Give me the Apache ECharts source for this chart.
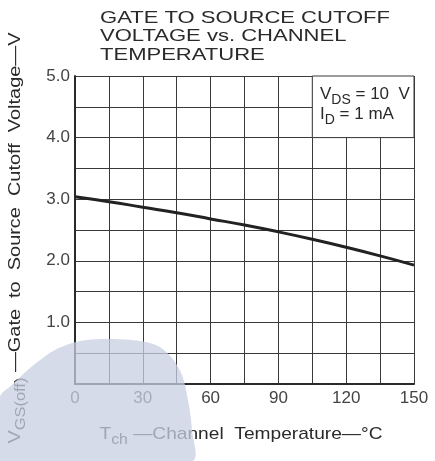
<!DOCTYPE html>
<html>
<head>
<meta charset="utf-8">
<script src="https://cdn.jsdelivr.net/npm/echarts@6/dist/echarts.min.js"></script>
<style>
  html, body { margin: 0; padding: 0; background: #fff; }
  #main { width: 435px; height: 461px; }
</style>
</head>
<body>
<div id="main"></div>
<script>
// channel temperature (°C) and cutoff voltage (V)
var temps = [0, 15, 30, 45, 60, 75, 90, 105, 120, 135, 150];
var vgsOff = [3.04, 2.96, 2.87, 2.78, 2.68, 2.58, 2.47, 2.35, 2.22, 2.08, 1.93];
var xTicks = [0, 30, 60, 90, 120, 150];
var yTicks = [1.0, 2.0, 3.0, 4.0, 5.0];
var titleLines = ['GATE TO SOURCE CUTOFF', 'VOLTAGE vs. CHANNEL', 'TEMPERATURE'];

var chartDom = document.getElementById('main');
var myChart = echarts.init(chartDom);
var option;

var font = 'Liberation Sans';
var ink = '#2a2a2a';

// the print uses spaced-out lettering; measure and stretch to the same width
var ctx = document.createElement('canvas').getContext('2d');
function textWidth(parts) {
    var w = 0;
    parts.forEach(function (p) {
        ctx.font = p[1] + 'px "' + font + '"';
        w += ctx.measureText(p[0]).width;
    });
    return w;
}

var rich = {
    m: { fontSize: 17, fill: ink, fontFamily: font, verticalAlign: 'top', lineHeight: 20 },
    s: { fontSize: 14, fill: ink, fontFamily: font, padding: [8, 0, 0, 0], lineHeight: 20 }
};

var xName = [['T', 17], ['ch', 14], [' \u2014Channel  Temperature\u2014\u00b0C', 17]];
var yName = [['V', 17], ['GS(off)', 14], [' \u2014Gate  to  Source  Cutoff  Voltage\u2014V', 17]];
function toRich(parts) {
    return parts.map(function (p) { return '{' + (p[1] === 17 ? 'm' : 's') + '|' + p[0] + '}'; }).join('');
}

ctx.font = '17px "' + font + '"';
var titleW = ctx.measureText(titleLines[0]).width;

option = {
    animation: false,
    textStyle: { fontFamily: font },
    grid: { left: 75, right: 21, top: 76, bottom: 77 },
    xAxis: {
        type: 'value',
        min: 0,
        max: 150,
        interval: 15,
        axisLine: { show: true, lineStyle: { color: ink, width: 2 } },
        axisTick: { show: false },
        splitLine: { show: true, lineStyle: { color: '#3a3a3a', width: 1 } },
        axisLabel: {
            fontSize: 17,
            color: '#444',
            margin: 6,
            formatter: function (v) {
                return xTicks.indexOf(v) >= 0 ? String(v) : '';
            }
        }
    },
    yAxis: {
        type: 'value',
        min: 0,
        max: 5,
        interval: 0.5,
        axisLine: { show: true, lineStyle: { color: ink, width: 2 } },
        axisTick: { show: false },
        splitLine: { show: true, lineStyle: { color: '#3a3a3a', width: 1 } },
        axisLabel: {
            fontSize: 17,
            color: '#444',
            margin: 5,
            formatter: function (v) {
                return yTicks.indexOf(v) >= 0 ? v.toFixed(1) : '';
            }
        }
    },
    series: [
        {
            type: 'line',
            data: temps.map(function (t, i) { return [t, vgsOff[i]]; }),
            smooth: true,
            symbol: 'none',
            lineStyle: { color: '#222', width: 3 },
            markArea: {
                silent: true,
                itemStyle: { color: '#fff', borderColor: '#3a3a3a', borderWidth: 1 },
                label: { show: false },
                data: [[{ coord: [105, 4.0] }, { coord: [150, 5.0] }]]
            }
        }
    ],
    graphic: [
        {
            type: 'text',
            x: 100,
            y: 9,
            scaleX: 290 / titleW,
            style: {
                text: titleLines.join('\n'),
                font: '17px "' + font + '"',
                fill: ink,
                lineHeight: 18.5
            }
        },
        {
            type: 'text',
            x: 241,
            y: 436,
            scaleX: 283 / textWidth(xName),
            style: {
                text: toRich(xName),
                rich: rich,
                align: 'center',
                verticalAlign: 'middle'
            }
        },
        {
            type: 'text',
            x: 17,
            y: 238,
            rotation: Math.PI / 2,
            scaleX: 411 / textWidth(yName),
            style: {
                text: toRich(yName),
                rich: rich,
                align: 'center',
                verticalAlign: 'middle'
            }
        },
        {
            type: 'text',
            x: 320,
            y: 86,
            z: 10,
            style: {
                text: toRich([['V', 17], ['DS', 14], [' = 10  V', 17]]) + '\n' +
                      toRich([['I', 17], ['D', 14], [' = 1 mA', 17]]),
                rich: rich
            }
        },
        {
            type: 'polygon',
            z: 100,
            silent: true,
            shape: {
                smooth: 0.3,
                points: [[0, 461], [0, 397], [12, 385], [30, 368], [55, 350], [80, 341],
                         [110, 339], [140, 341], [158, 346], [172, 358], [182, 375],
                         [188, 400], [192, 430], [192, 461]]
            },
            style: { fill: 'rgba(200, 207, 226, 0.75)' }
        }
    ]
};

option && myChart.setOption(option);
</script>
</body>
</html>
